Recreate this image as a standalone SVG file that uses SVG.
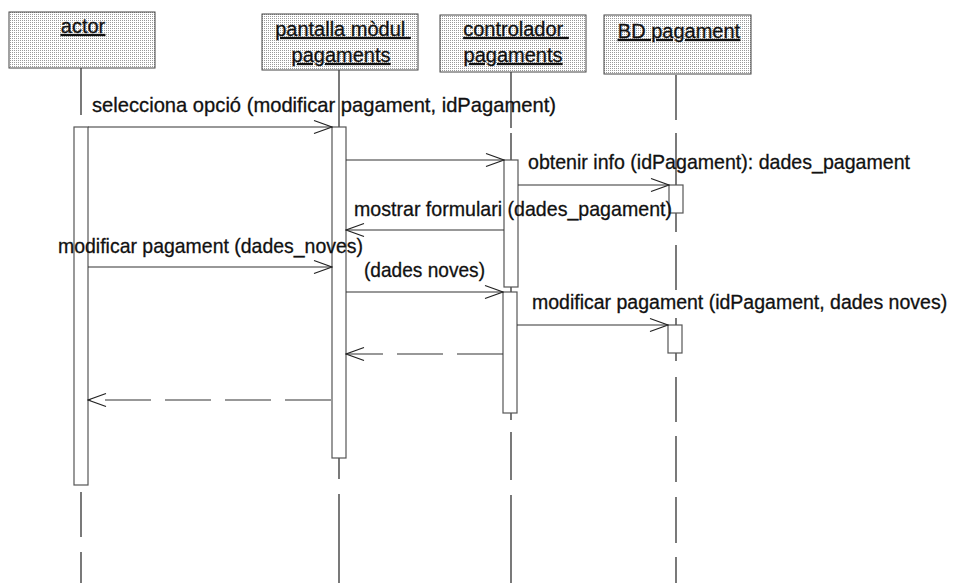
<svg xmlns="http://www.w3.org/2000/svg" width="955" height="583" viewBox="0 0 955 583">
<defs>
<pattern id="stip" width="2" height="2" patternUnits="userSpaceOnUse">
<rect width="2" height="2" fill="#ffffff"/>
<rect width="1" height="1" fill="#999999"/>
</pattern>
<marker id="open" viewBox="0 0 20 16" refX="19" refY="8" markerWidth="20" markerHeight="16" markerUnits="userSpaceOnUse" orient="auto">
<path d="M1,1.5 L19,8 L1,14.5" fill="none" stroke="#222" stroke-width="1.3"/>
</marker>
</defs>
<style>
.box{fill:url(#stip);stroke:#444;stroke-width:1}
.bar{fill:#fff;stroke:#555;stroke-width:1.2}
.life{fill:none;stroke:#222;stroke-width:1.2}
.hd{font-family:"Liberation Sans",Arial,sans-serif;font-size:20px;fill:#111;stroke:#111;stroke-width:0.3;text-anchor:middle;text-decoration:underline;white-space:pre}
.lbl{font-family:"Liberation Sans",Arial,sans-serif;font-size:21px;fill:#111;stroke:#111;stroke-width:0.3}
.msg{fill:none;stroke:#333;stroke-width:1.2;marker-end:url(#open)}
.ret{fill:none;stroke:#333;stroke-width:1.2;stroke-dasharray:46 14;marker-end:url(#open)}
</style>
<rect width="955" height="583" fill="#fff"/>

<g id="lifelines">
<path class="life" d="M81,68 V115 M81,127 V485 M81,492 V537 M81,552 V583"/>
<path class="life" d="M339,70 V458 M339,458 V479 M339,494 V583"/>
<path class="life" d="M511,72 V128 M511,133 V420 M511,432 V480 M511,495 V583"/>
<path class="life" d="M676,75 V120 M676,133 V232 M676,245 V290 M676,318 V361 M676,377 V422 M676,436 V482 M676,497 V543 M676,557 V583"/>
</g>

<g id="actor">
<rect class="box" x="9" y="12" width="146" height="56"/>
<text class="hd" x="83" y="33">actor</text>
<rect class="bar" x="74" y="127" width="14" height="358"/>
</g>

<g id="pantalla">
<rect class="box" x="262" y="14" width="156" height="56"/>
<text class="hd" x="343" y="36">pantalla mòdul </text>
<text class="hd" x="341" y="62">pagaments</text>
<rect class="bar" x="332" y="127" width="14" height="331"/>
</g>

<g id="controlador">
<rect class="box" x="440" y="15" width="146" height="57"/>
<text class="hd" x="516" y="36">controlador </text>
<text class="hd" x="513" y="62">pagaments</text>
<rect class="bar" x="504" y="160" width="14" height="127"/>
<rect class="bar" x="503" y="292" width="14" height="121"/>
</g>

<g id="bd">
<rect class="box" x="604" y="15" width="147" height="59"/>
<text class="hd" x="679" y="38">BD pagament</text>
<rect class="bar" x="669" y="185" width="14" height="28"/>
<rect class="bar" x="668" y="325" width="14" height="28"/>
</g>

<g id="connectors">
<line class="msg" x1="88" y1="127" x2="332" y2="127"/>
<line class="msg" x1="346" y1="160" x2="504" y2="160"/>
<line class="msg" x1="518" y1="185" x2="669" y2="185"/>
<line class="msg" x1="504" y1="230" x2="346" y2="230"/>
<line class="msg" x1="88" y1="267" x2="332" y2="267"/>
<line class="msg" x1="346" y1="292" x2="503" y2="292"/>
<line class="msg" x1="517" y1="325" x2="668" y2="325"/>
<line class="ret" x1="503" y1="354" x2="346" y2="354"/>
<line class="ret" x1="331" y1="400" x2="88" y2="400"/>
</g>

<g id="labels">
<text class="lbl" x="92" y="112" textLength="464" lengthAdjust="spacingAndGlyphs">selecciona opció (modificar pagament, idPagament)</text>
<text class="lbl" x="528" y="169" textLength="382" lengthAdjust="spacingAndGlyphs">obtenir info (idPagament): dades_pagament</text>
<text class="lbl" x="354" y="216" textLength="318" lengthAdjust="spacingAndGlyphs">mostrar formulari (dades_pagament)</text>
<text class="lbl" x="58" y="253" textLength="305" lengthAdjust="spacingAndGlyphs">modificar pagament (dades_noves)</text>
<text class="lbl" x="364" y="277" textLength="121" lengthAdjust="spacingAndGlyphs">(dades noves)</text>
<text class="lbl" x="532" y="309" style="font-size:19.5px">modificar pagament (idPagament, dades noves)</text>
</g>
</svg>
